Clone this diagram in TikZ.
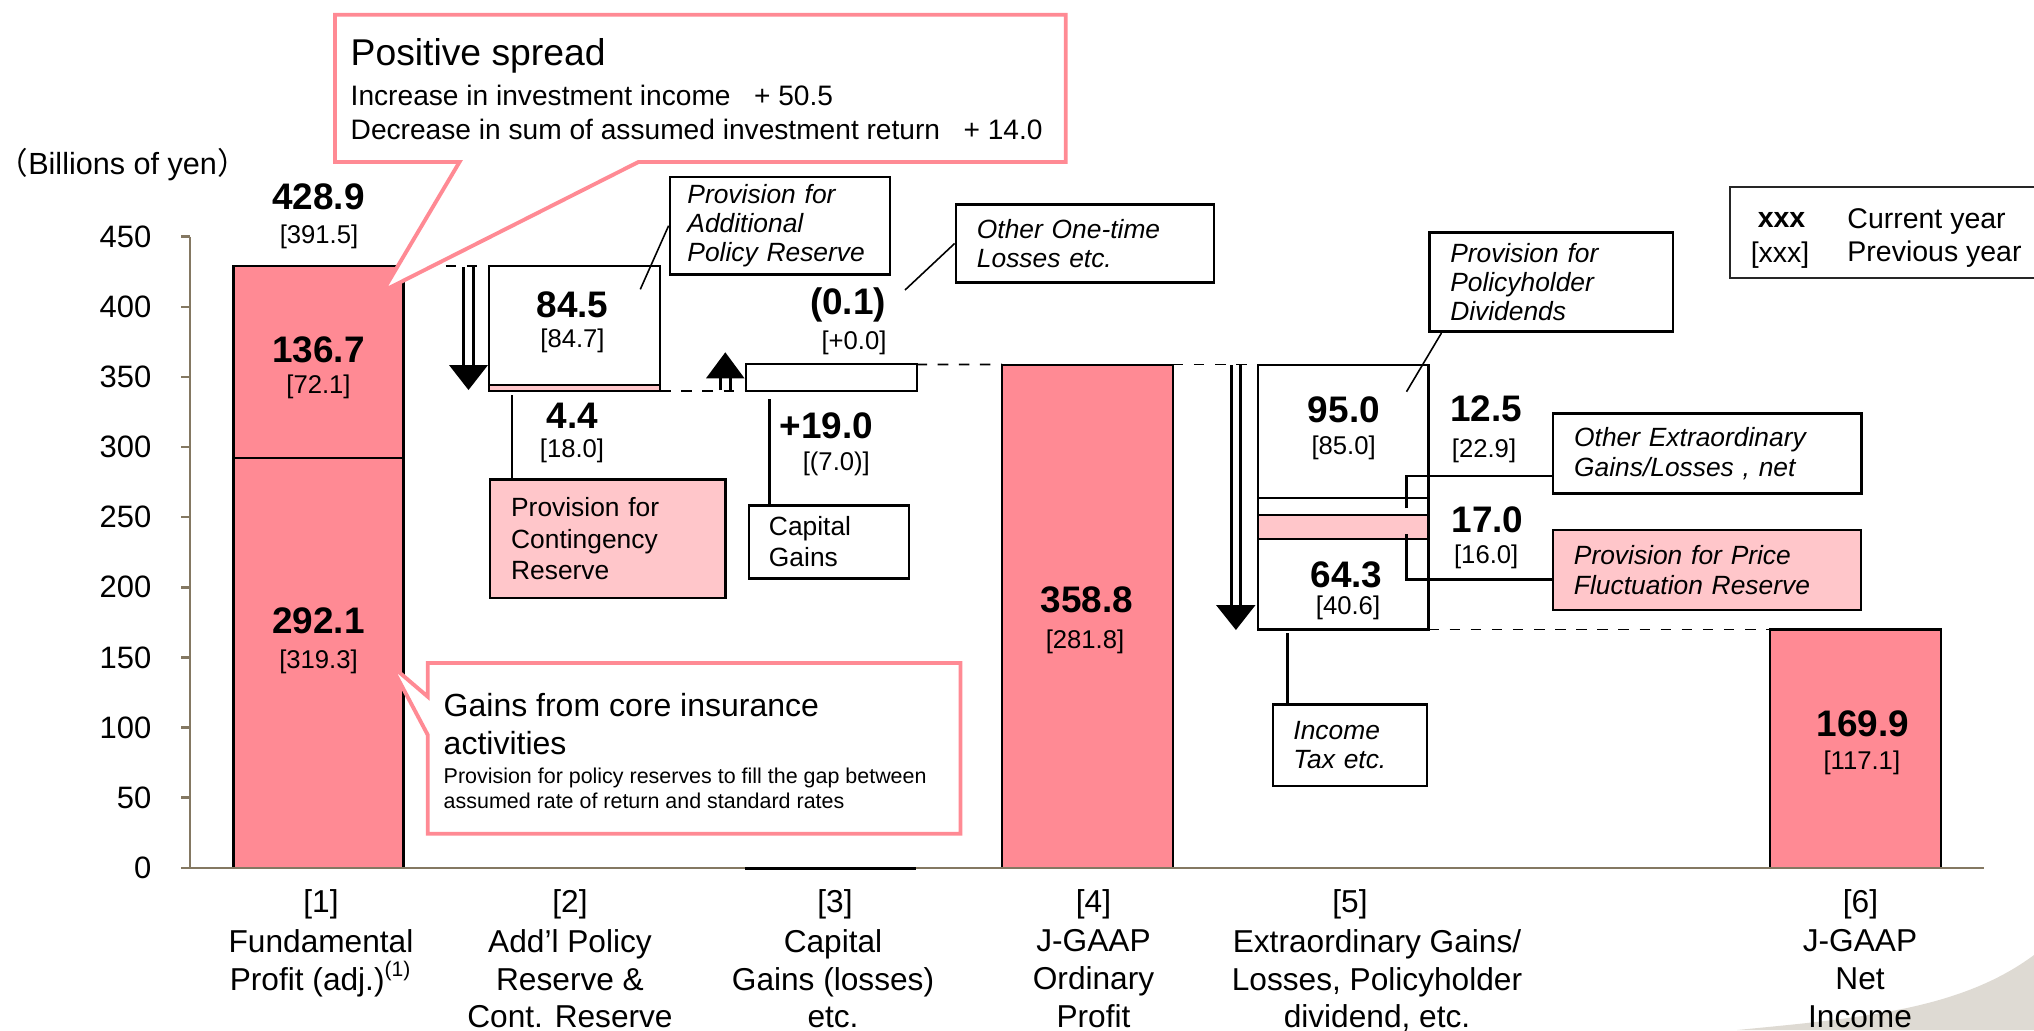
\documentclass[tikz,border=0pt]{standalone}
\usepackage{fontspec}
\setmainfont{Liberation Sans}
\newfontfamily\cjk{Noto Sans CJK JP}

\definecolor{barpink}{RGB}{255,138,148}
\definecolor{softpink}{RGB}{255,198,202}
\definecolor{axisbrown}{RGB}{132,120,98}
\definecolor{swoosh}{RGB}{222,218,211}

\tikzset{
  cur/.style={inner sep=0pt, font=\fontsize{10.5}{12}\selectfont\bfseries},
  prev/.style={inner sep=0pt, font=\fontsize{7.3}{9}\selectfont},
  tag/.style={draw, line width=0.75pt, fill=white, align=left, inner ysep=0pt,
    font=\fontsize{7.5}{8.3}\selectfont\itshape},
  cat/.style={align=center, inner sep=0pt, font=\fontsize{9}{10.7}\selectfont},
  flow/.style={double, line width=0.85pt, double distance=1.9pt},
  bubble/.style={draw=barpink, line width=1.1pt, fill=white},
  pin/.style={line width=0.7pt},
}

\begin{document}
\begin{tikzpicture}[x=0.01cm, y=-0.01cm]
        \useasboundingbox (0,0) rectangle (2034,1030);
        \fill[swoosh] (2034,955) .. controls (1960,1010) and (1860,1018) .. (1737,1030) -- (2034,1030) -- cycle;

        % bars
        \coordinate (P1tl) at (233.5,266.3);
        \coordinate (P1br) at (403.5,867.8);
        \coordinate (P2tl) at (489.2,266.3);
        \coordinate (P2br) at (660.2,391.0);
        \coordinate (P3tl) at (746.3,364.4);
        \coordinate (P3br) at (916.6,391.0);
        \coordinate (P4tl) at (1002,364.6);
        \coordinate (P4br) at (1172.8,867.8);
        \coordinate (P5tl) at (1258.2,364.6);
        \coordinate (P5br) at (1428.5,629.5);
        \coordinate (P6tl) at (1770.4,629.5);
        \coordinate (P6br) at (1941.3,867.8);

        \filldraw[fill=barpink, line width=0.6pt] (P1tl) rectangle (P1br);
        \draw[line width=0.6pt] (233.5,458.2) -- (403.5,458.2);

        \fill[softpink] (489.2,384.8) rectangle (P2br);
        \draw[line width=0.6pt] (P2tl) rectangle (P2br);
        \draw[line width=0.6pt] (489.2,384.8) -- (660.2,384.8);

        \draw[line width=0.6pt] (P3tl) rectangle (P3br);

        \filldraw[fill=barpink, line width=0.6pt] (P4tl) rectangle (P4br);

        \fill[softpink] (1258.2,515.3) rectangle (1428.5,539.2);
        \draw[line width=0.6pt] (P5tl) rectangle (P5br);
        \draw[line width=0.6pt] (1258.2,497.8) -- (1428.5,497.8)
            (1258.2,515.3) -- (1428.5,515.3) (1258.2,539.2) -- (1428.5,539.2);

        \filldraw[fill=barpink, line width=0.6pt] (P6tl) rectangle (P6br);

        % axes
        \draw[axisbrown, line width=0.7pt] (190,236.7) -- (190,867.8);
        \draw[axisbrown, line width=0.7pt] (181,867.8) -- (1984,867.8);
        \draw[line width=1pt] (745,868.6) -- (915.5,868.6);
        \foreach \v in {0,50,...,450}{
            \draw[axisbrown, line width=0.7pt] (181,{867.8-1.4025*\v}) -- (190,{867.8-1.4025*\v});
            \node[anchor=east, inner sep=0pt, font=\fontsize{8.8}{10}\selectfont] (t\v) at (152,{867.8-1.4025*\v}) {\v};
        }
        \node[anchor=west, inner sep=0pt, font=\fontsize{8.7}{10}\selectfont] (unit) at (-3,165) {{\cjk （}Billions of yen{\cjk ）}};

        % steps between bars
        \draw[dashed, line width=0.5pt] (P1br |- P1tl) -- (P2tl);
        \draw[dashed, line width=0.5pt] (P2br) -- (P2br -| P3tl);
        \draw[dashed, line width=0.5pt] (P3br |- P3tl) -- (P4tl);
        \draw[dashed, line width=0.5pt] (P4br |- P4tl) -- (P5tl);
        \draw[dashed, line width=0.5pt] (P5br) -- (P6tl);

        \draw[flow] (468.5,267) -- (468.5,366);
        \fill (449,365) -- (488,365) -- (468.5,390) -- cycle;
        \draw[flow] (725.3,390) -- (725.3,377);
        \fill (706,378.3) -- (744.5,378.3) -- (725.3,352.3) -- cycle;
        \draw[flow] (1235.9,365) -- (1235.9,606);
        \fill (1216,605) -- (1255.5,605) -- (1235.9,630) -- cycle;

        % callouts
        \draw[bubble] (335,14.7) -- (1065.7,14.7) -- (1065.7,162) -- (638.4,162)
            -- (383,291) -- (459.5,162) -- (335,162) -- cycle;
        \node[anchor=west, inner sep=0pt, font=\fontsize{10.6}{12}\selectfont] (spread) at (350,55.8) {Positive spread};
        \node[anchor=west, inner sep=0pt, font=\fontsize{8}{9}\selectfont] (income) at (350,95.5) {Increase in investment income~~~+ 50.5};
        \node[anchor=west, inner sep=0pt, font=\fontsize{8}{9}\selectfont] (assumed) at (350,129) {Decrease in sum of assumed investment return~~~+ 14.0};

        \draw[bubble] (427.8,663) -- (960.5,663) -- (960.5,833.7) -- (427.8,833.7)
            -- (427.8,735) -- (390.7,665) -- (427.8,696.7) -- cycle;
        \node[anchor=west, align=left, inner sep=0pt, font=\fontsize{9.1}{10.8}\selectfont] (core) at (443,723.7) {Gains from core insurance\\activities};
        \node[anchor=west, align=left, inner sep=0pt, font=\fontsize{6.1}{6.9}\selectfont] (gap) at (443,788.3) {Provision for policy reserves to fill the gap between\\assumed rate of return and standard rates};

        % values
        \node[cur] (v1) at (318.5,196.7) {428.9};
        \node[prev] (w1) at (319,236.7) {[391.5]};
        \node[cur] (v1b) at (318.5,350) {136.7};
        \node[prev] (w1b) at (318.5,386.7) {[72.1]};
        \node[cur] (v1a) at (318.5,620.8) {292.1};
        \node[prev] (w1a) at (318.5,661.7) {[319.3]};
        \node[cur] (v2a) at (572.5,305) {84.5};
        \node[prev] (w2a) at (572.5,340.5) {[84.7]};
        \node[cur] (v2b) at (572.2,415.8) {4.4};
        \node[prev] (w2b) at (572,450.5) {[18.0]};
        \node[cur] (v3b) at (848,305) {(0.1)};
        \node[prev] (w3b) at (854,342.5) {[+0.0]};
        \node[cur] (v3a) at (826.3,425.8) {+19.0};
        \node[prev] (w3a) at (836.3,464.2) {[(7.0)]};
        \node[cur] (v4) at (1087,599.5) {358.8};
        \node[prev] (w4) at (1085,641.7) {[281.8]};
        \node[cur] (v5a) at (1343.9,410) {95.0};
        \node[prev] (w5a) at (1343.6,447.5) {[85.0]};
        \node[cur] (v5b) at (1486.2,408.3) {12.5};
        \node[prev] (w5b) at (1484,451.3) {[22.9]};
        \node[cur] (v5c) at (1487.4,520) {17.0};
        \node[prev] (w5c) at (1486.2,556.7) {[16.0]};
        \node[cur] (v5d) at (1346.4,574.5) {64.3};
        \node[prev] (w5d) at (1348,608.3) {[40.6]};
        \node[cur] (v6) at (1862.8,723.3) {169.9};
        \node[prev] (w6) at (1861.8,763.3) {[117.1]};

        % labels
        \node[tag, minimum width=2.2cm, minimum height=0.97cm, text width=1.85cm, inner xsep=0.175cm] (addlab) at (780,225.7) {Provision for\\Additional\\Policy Reserve};
        \node[tag, font=\fontsize{7.5}{8.1}\selectfont\itshape, minimum width=2.58cm, minimum height=0.78cm, text width=2.16cm, inner xsep=0.21cm] (otherlab) at (1085,243.5) {Other One-time\\Losses etc.};
        \node[tag, fill=softpink, font=\fontsize{7.5}{9}\selectfont, minimum width=2.35cm, minimum height=1.18cm, text width=1.93cm, inner xsep=0.21cm] (contlab) at (607.7,538.8) {Provision for\\Contingency\\Reserve};
        \node[tag, font=\fontsize{7.5}{8.8}\selectfont, minimum width=1.6cm, minimum height=0.73cm, text width=1.2cm, inner xsep=0.2cm] (caplab) at (829,541.7) {Capital\\Gains};
        \node[tag, minimum width=2.43cm, minimum height=0.99cm, text width=2.02cm, inner xsep=0.205cm] (divlab) at (1551.3,282.2) {Provision for\\Policyholder\\Dividends};
        \node[tag, font=\fontsize{7.5}{8.5}\selectfont\itshape, minimum width=3.08cm, minimum height=0.8cm, text width=2.66cm, inner xsep=0.21cm] (extlab) at (1707.2,453.3) {Other Extraordinary\\Gains/Losses , net};
        \node[tag, fill=softpink, font=\fontsize{7.5}{8.3}\selectfont\itshape, minimum width=3.08cm, minimum height=0.8cm, text width=2.66cm, inner xsep=0.21cm] (pricelab) at (1707,570) {Provision for Price\\Fluctuation Reserve};
        \node[tag, minimum width=1.54cm, minimum height=0.81cm, text width=1.13cm, inner xsep=0.205cm] (taxlab) at (1350,745.3) {Income\\Tax etc.};

        \coordinate (addpt) at (640.3,289.3);
        \coordinate (otherpt) at (905,290);
        \coordinate (contpt) at (512,395);
        \coordinate (cappt) at (769.7,399.3);
        \coordinate (divpt) at (1406.5,391.7);
        \coordinate (extpt) at (1406.5,508.3);
        \coordinate (pricept) at (1406.5,534);
        \coordinate (taxpt) at (1287.6,633);

        \draw[line width=0.45pt] (addlab.west) -- (addpt);
        \draw[line width=0.45pt] (otherlab.west) -- (otherpt);
        \draw[line width=0.45pt] ([xshift=0.13cm]divlab.south west) -- (divpt);
        \draw[pin] (contpt) -- (contpt |- contlab.north);
        \draw[pin] (cappt) -- (cappt |- caplab.north);
        \draw[pin] (extpt) |- ([yshift=-0.227cm]extlab.west);
        \draw[pin] (pricept) |- ([yshift=-0.093cm]pricelab.west);
        \draw[pin] (taxpt) -- (taxpt |- taxlab.north);

        % legend
        \draw[line width=0.6pt, black!85] (1730,187.3) rectangle (2050,278.3);
        \node[inner sep=0pt, font=\fontsize{8.1}{9}\selectfont\bfseries] (keycur) at (1781.5,220) {xxx};
        \node[inner sep=0pt, font=\fontsize{8.1}{9}\selectfont] (keyprev) at (1780,255) {[xxx]};
        \node[anchor=west, inner sep=0pt, font=\fontsize{8.1}{9}\selectfont] (curyear) at (1846.7,221.3) {Current year};
        \node[anchor=west, inner sep=0pt, font=\fontsize{8.1}{9}\selectfont] (prevyear) at (1846.7,254) {Previous year};

        % categories
        \node[cat, anchor=base] (n1) at (321,912.7) {[1]};
        \node[cat, anchor=north] (c1) at (321,929) {Fundamental\\Profit (adj.)\textsuperscript{(1)}};
        \node[cat, anchor=base] (n2) at (570,912.7) {[2]};
        \node[cat, anchor=north] (c2) at (570,929) {Add’l Policy\\Reserve \&\\Cont. Reserve};
        \node[cat, anchor=base] (n3) at (835,912.7) {[3]};
        \node[cat, anchor=north] (c3) at (833,929) {Capital\\Gains (losses)\\etc.};
        \node[cat, anchor=base] (n4) at (1093.5,912.7) {[4]};
        \node[cat, anchor=north] (c4) at (1093.5,929) {J-GAAP\\Ordinary\\Profit};
        \node[cat, anchor=base] (n5) at (1350,912.7) {[5]};
        \node[cat, anchor=north] (c5) at (1377,929) {Extraordinary Gains/\\Losses, Policyholder\\dividend, etc.};
        \node[cat, anchor=base] (n6) at (1860.5,912.7) {[6]};
        \node[cat, anchor=north] (c6) at (1860,929) {J-GAAP\\Net\\Income};

    \end{tikzpicture}
\end{document}
